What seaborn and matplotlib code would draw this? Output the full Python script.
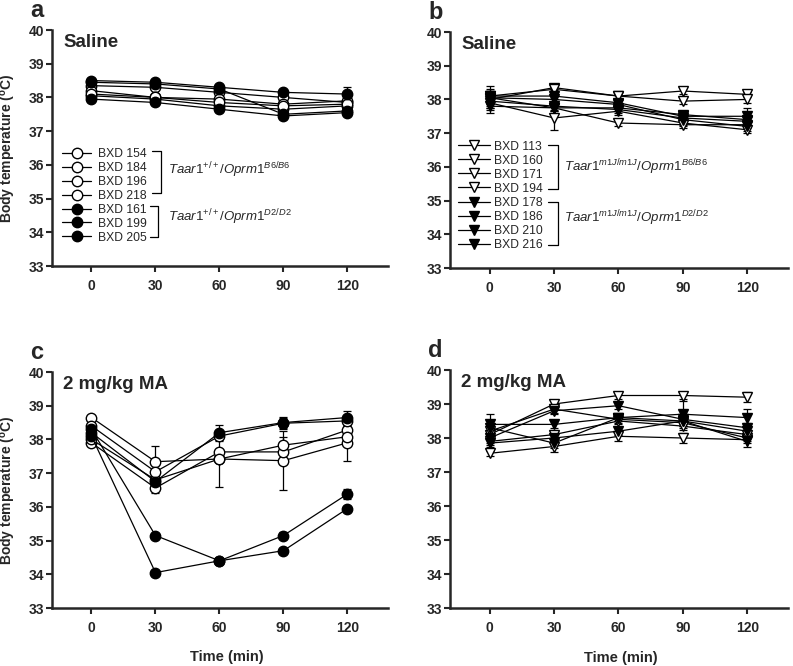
import seaborn as sns
import matplotlib.pyplot as plt

times = [0, 30, 60, 90, 120]

# panel a: saline, Taar1 +/+
a_open_strains = ['BXD 154', 'BXD 184', 'BXD 196', 'BXD 218']
a_open_vals = [[38.35, 38.30, 38.15, 38.00, 37.85],
               [38.20, 38.00, 37.95, 37.80, 37.90],
               [38.05, 37.95, 37.75, 37.65, 37.75],
               [38.10, 38.00, 37.85, 37.75, 37.80]]
a_open_err = [[0.08, 0.08, 0.08, 0.08, 0.10],
              [0.08, 0.08, 0.08, 0.08, 0.08],
              [0.08, 0.08, 0.08, 0.08, 0.08],
              [0.08, 0.08, 0.08, 0.08, 0.08]]
a_filled_strains = ['BXD 161', 'BXD 199', 'BXD 205']
a_filled_vals = [[38.50, 38.45, 38.30, 38.15, 38.10],
                 [37.95, 37.85, 37.65, 37.45, 37.55],
                 [38.45, 38.40, 38.25, 37.50, 37.60]]
a_filled_err = [[0.08, 0.08, 0.08, 0.08, 0.20],
                [0.08, 0.08, 0.08, 0.10, 0.08],
                [0.08, 0.08, 0.08, 0.10, 0.08]]

# panel b: saline, Taar1 m1J/m1J
b_open_strains = ['BXD 113', 'BXD 160', 'BXD 171', 'BXD 194']
b_open_vals = [[38.00, 38.35, 38.10, 38.25, 38.15],
               [38.10, 38.30, 38.10, 37.95, 38.00],
               [37.90, 37.45, 37.65, 37.30, 37.10],
               [38.05, 37.75, 37.30, 37.25, 37.25]]
b_open_err = [[0.25, 0.08, 0.08, 0.08, 0.08],
              [0.20, 0.08, 0.08, 0.08, 0.10],
              [0.20, 0.35, 0.10, 0.10, 0.10],
              [0.15, 0.10, 0.10, 0.10, 0.10]]
b_filled_strains = ['BXD 178', 'BXD 186', 'BXD 210', 'BXD 216']
b_filled_vals = [[38.10, 38.10, 37.90, 37.50, 37.50],
                 [37.95, 37.80, 37.70, 37.45, 37.35],
                 [37.80, 37.75, 37.75, 37.55, 37.40],
                 [38.05, 38.00, 37.85, 37.40, 37.20]]
b_filled_err = [[0.30, 0.10, 0.10, 0.15, 0.25],
                [0.20, 0.10, 0.10, 0.10, 0.10],
                [0.20, 0.10, 0.10, 0.10, 0.10],
                [0.20, 0.10, 0.10, 0.15, 0.15]]

# panel c: 2 mg/kg MA, Taar1 +/+
c_open_vals = [[38.65, 37.34, 37.42, 37.37, 37.90],
               [37.90, 36.56, 37.63, 37.63, 38.28],
               [38.00, 36.80, 37.42, 37.83, 38.08],
               [38.40, 37.04, 38.10, 38.48, 38.55]]
c_open_err = [[0.08, 0.47, 0.83, 0.88, 0.55],
              [0.08, 0.15, 0.10, 0.20, 0.15],
              [0.08, 0.15, 0.10, 0.25, 0.10],
              [0.08, 0.10, 0.15, 0.15, 0.15]]
c_filled_vals = [[38.20, 36.75, 38.20, 38.50, 38.65],
                 [38.30, 35.15, 34.40, 35.15, 36.38],
                 [38.10, 34.05, 34.40, 34.70, 35.95]]
c_filled_err = [[0.10, 0.10, 0.22, 0.18, 0.20],
                [0.10, 0.08, 0.08, 0.10, 0.15],
                [0.10, 0.08, 0.08, 0.08, 0.08]]

# panel d: 2 mg/kg MA, Taar1 m1J/m1J
d_open_vals = [[38.10, 39.00, 39.25, 39.25, 39.20],
               [37.55, 37.75, 38.05, 38.00, 37.95],
               [38.20, 38.85, 38.55, 38.45, 38.00],
               [37.90, 38.10, 38.50, 38.35, 38.10]]
d_open_err = [[0.10, 0.08, 0.10, 0.10, 0.15],
              [0.08, 0.15, 0.15, 0.15, 0.10],
              [0.10, 0.10, 0.10, 0.10, 0.10],
              [0.10, 0.10, 0.10, 0.10, 0.10]]
d_filled_vals = [[38.40, 38.40, 38.60, 38.70, 38.60],
                 [38.00, 38.80, 38.95, 38.55, 38.30],
                 [37.85, 38.00, 38.20, 38.50, 37.90],
                 [38.30, 37.85, 38.60, 38.50, 38.20]]
d_filled_err = [[0.30, 0.10, 0.10, 0.40, 0.25],
                [0.15, 0.10, 0.10, 0.10, 0.15],
                [0.10, 0.10, 0.10, 0.15, 0.15],
                [0.10, 0.15, 0.10, 0.10, 0.10]]

sns.set_style('ticks')
plt.rcParams['font.family'] = ['Liberation Sans', 'DejaVu Sans']
plt.rcParams['mathtext.fontset'] = 'custom'
plt.rcParams['mathtext.rm'] = 'Liberation Sans'
plt.rcParams['mathtext.it'] = 'Liberation Sans:italic'
plt.rcParams['mathtext.bf'] = 'Liberation Sans:bold'


def draw_series(ax, vals, errs, marker, face):
    handles = []
    for v, e in zip(vals, errs):
        ax.errorbar(times, v, yerr=e, fmt='none', ecolor='black',
                    elinewidth=0.9, capsize=3, capthick=0.9, zorder=1)
        sns.lineplot(x=times, y=v, ax=ax, color='black', lw=0.9,
                     marker=marker, markersize=7.5, markerfacecolor=face,
                     markeredgecolor='black', markeredgewidth=1,
                     errorbar=None, legend=False, zorder=2)
        handles.append(ax.lines[-1])
    return handles


def style_axes(ax, title, letter):
    ax.set_xlim(-18.5, 139)
    ax.set_ylim(33, 40)
    ax.set_xticks(times)
    ax.set_yticks(range(33, 41))
    sns.despine(ax=ax)
    for s in ['left', 'bottom']:
        ax.spines[s].set_linewidth(1.8)
    ax.tick_params(axis='both', width=1.5, labelsize=10)
    ax.tick_params(axis='x', length=4.5, pad=5)
    ax.tick_params(axis='y', length=4, pad=1.5)
    for lab in ax.get_xticklabels() + ax.get_yticklabels():
        lab.set_fontweight('bold')
    ax.text(0.033, 0.985, title, transform=ax.transAxes, fontsize=13.5,
            fontweight='bold', va='top', ha='left')
    ax.text(-0.065, 1.13, letter, transform=ax.transAxes, fontsize=17,
            fontweight='bold', va='top', ha='left')


def bracket(ax, x0, x1, y0, y1):
    ax.plot([x0, x1, x1, x0], [y0, y0, y1, y1], color='black', lw=0.9,
            transform=ax.transAxes, clip_on=False)


fig = plt.figure(figsize=(7.93, 6.66), dpi=100)
ax_a = fig.add_axes([52 / 793, 1 - 266 / 666, 336 / 793, 236 / 666])
ax_b = fig.add_axes([450 / 793, 1 - 268 / 666, 338 / 793, 236 / 666])
ax_c = fig.add_axes([52 / 793, 1 - 608 / 666, 336 / 793, 236 / 666])
ax_d = fig.add_axes([450 / 793, 1 - 608 / 666, 338 / 793, 238 / 666])

# a
h_open = draw_series(ax_a, a_open_vals, a_open_err, 'o', 'white')
h_fill = draw_series(ax_a, a_filled_vals, a_filled_err, 'o', 'black')
style_axes(ax_a, 'Saline', 'a')
ax_a.legend(h_open + h_fill, a_open_strains + a_filled_strains,
            loc='upper left', bbox_to_anchor=(0.03, 0.50), frameon=False,
            fontsize=8.7, borderpad=0, borderaxespad=0, handlelength=2.4,
            handletextpad=0.55, labelspacing=0.16)
bracket(ax_a, 0.298, 0.324, 0.489, 0.311)
bracket(ax_a, 0.292, 0.316, 0.254, 0.122)
ax_a.text(0.345, 0.405, r'$\mathit{Taar1}^{\mathit{+/+}}\mathit{/Oprm1}^{\mathit{B6/B6}}$',
          transform=ax_a.transAxes, fontsize=9.5, va='center', ha='left')
ax_a.text(0.345, 0.205, r'$\mathit{Taar1}^{\mathit{+/+}}\mathit{/Oprm1}^{\mathit{D2/D2}}$',
          transform=ax_a.transAxes, fontsize=9.5, va='center', ha='left')

# b
h_open = draw_series(ax_b, b_open_vals, b_open_err, 'v', 'white')
h_fill = draw_series(ax_b, b_filled_vals, b_filled_err, 'v', 'black')
style_axes(ax_b, 'Saline', 'b')
ax_b.legend(h_open + h_fill, b_open_strains + b_filled_strains,
            loc='upper left', bbox_to_anchor=(0.024, 0.54), frameon=False,
            fontsize=8.7, borderpad=0, borderaxespad=0, handlelength=2.6,
            handletextpad=0.35, labelspacing=0.17)
bracket(ax_b, 0.29, 0.32, 0.521, 0.334)
bracket(ax_b, 0.29, 0.32, 0.281, 0.098)
ax_b.text(0.337, 0.428, r'$\mathit{Taar1}^{\mathit{m1J/m1J}}\mathit{/Oprm1}^{\mathit{B6/B6}}$',
          transform=ax_b.transAxes, fontsize=9.5, va='center', ha='left')
ax_b.text(0.337, 0.212, r'$\mathit{Taar1}^{\mathit{m1J/m1J}}\mathit{/Oprm1}^{\mathit{D2/D2}}$',
          transform=ax_b.transAxes, fontsize=9.5, va='center', ha='left')

# c
draw_series(ax_c, c_open_vals, c_open_err, 'o', 'white')
draw_series(ax_c, c_filled_vals, c_filled_err, 'o', 'black')
style_axes(ax_c, '2 mg/kg MA', 'c')

# d
draw_series(ax_d, d_open_vals, d_open_err, 'v', 'white')
draw_series(ax_d, d_filled_vals, d_filled_err, 'v', 'black')
style_axes(ax_d, '2 mg/kg MA', 'd')

ylab = r'Body temperature ($^{\mathbf{o}}$C)'
for ax in [ax_a, ax_c]:
    ax.set_ylabel(ylab, fontsize=10, fontweight='bold')
    ax.yaxis.set_label_coords(-0.1, 0.5)
for ax, xc in [(ax_c, 0.52), (ax_d, 0.506)]:
    ax.set_xlabel('Time (min)', fontsize=10.5, fontweight='bold')
    ax.xaxis.set_label_coords(xc, -0.18)

fig.savefig('out.png', dpi=100)
